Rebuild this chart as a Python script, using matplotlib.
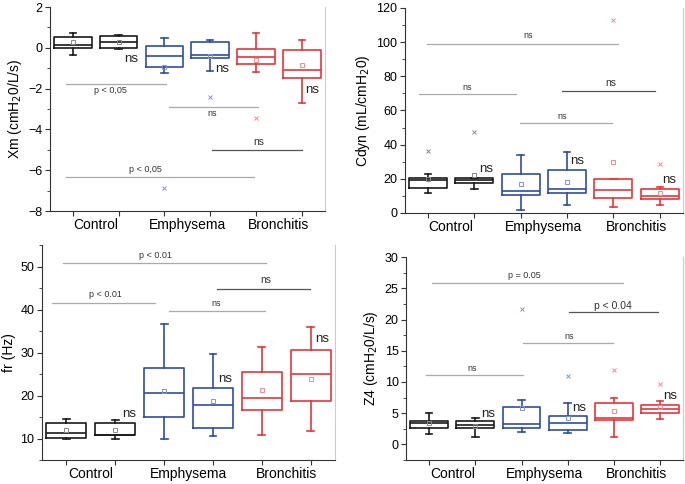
import matplotlib.pyplot as plt
from matplotlib.ticker import MultipleLocator

plt.rcParams['font.family'] = ['Liberation Sans', 'DejaVu Sans']

groups = ["Control", "Emphysema", "Bronchitis"]
box_colors = ["#1a1a1a", "#1a1a1a", "#2f4ea3", "#2f4ea3", "#e8353a", "#e8353a"]
soft_colors = ["#8a8a8a", "#8a8a8a", "#8595cc", "#8595cc", "#f08c8e", "#f08c8e"]

# Xm (cmH2O/L/s)
xm_q1 = [-0.01, 0.0, -0.95, -0.50, -0.78, -1.49]
xm_med = [0.15, 0.28, -0.42, -0.34, -0.45, -1.11]
xm_q3 = [0.53, 0.56, 0.07, 0.27, -0.06, -0.13]
xm_lo = [-0.37, -0.05, -1.24, -1.16, -1.18, -2.71]
xm_hi = [0.72, 0.64, 0.48, 0.40, 0.72, 0.36]
xm_mean = [0.27, 0.27, -0.93, -0.39, -0.60, -0.86]
xm_out = [[], [], [-6.89], [-2.42], [-3.43], []]

# Cdyn (mL/cmH2O)
cd_q1 = [14.7, 17.8, 10.4, 11.9, 8.8, 8.4]
cd_med = [19.0, 19.2, 12.9, 14.3, 13.7, 9.8]
cd_q3 = [20.6, 20.6, 22.7, 25.4, 19.6, 14.3]
cd_lo = [11.9, 14.3, 2.0, 4.9, 3.5, 4.5]
cd_hi = [22.7, 20.6, 33.7, 35.6, 19.6, 15.3]
cd_mean = [20.0, 22.1, 16.8, 18.0, 29.6, 11.9]
cd_out = [[36.4], [47.2], [], [], [113.2], [28.4]]

# fr (Hz)
fr_q1 = [10.1, 10.7, 15.0, 12.5, 16.7, 18.7]
fr_med = [11.3, 10.9, 20.5, 17.7, 19.5, 25.1]
fr_q3 = [13.5, 13.5, 26.5, 21.8, 25.5, 30.7]
fr_lo = [10.0, 9.8, 9.8, 10.5, 10.9, 11.7]
fr_hi = [14.6, 14.4, 36.6, 29.7, 31.4, 35.9]
fr_mean = [11.9, 11.9, 21.0, 18.7, 21.2, 23.9]
fr_out = [[], [], [], [], [], []]

# Z4 (cmH2O/L/s)
z4_q1 = [2.7, 2.7, 2.7, 2.3, 3.9, 5.0]
z4_med = [3.4, 3.1, 3.3, 3.4, 4.3, 5.6]
z4_q3 = [3.8, 3.7, 6.0, 4.6, 6.6, 6.3]
z4_lo = [1.6, 1.2, 2.0, 1.8, 1.2, 4.0]
z4_hi = [5.1, 4.2, 7.1, 6.7, 7.4, 7.0]
z4_mean = [3.4, 3.0, 5.8, 4.2, 5.3, 6.0]
z4_out = [[], [], [21.7], [10.9], [12.0], [9.6]]

# comparison lines: x from, x to, y, label, label x, label y, dark line
xm_cmp = [(0.85, 3.03, -1.78, "p < 0,05", 1.81, -2.1, False),
          (3.10, 5.05, -2.91, "ns", 4.05, -3.2, False),
          (4.04, 6.00, -4.99, "ns", 5.07, -4.63, True),
          (0.85, 4.96, -6.35, "p < 0,05", 2.58, -5.95, False)]
cd_cmp = [(0.97, 5.10, 99.1, "ns", 3.17, 103.8, False),
          (0.81, 2.90, 69.5, "ns", 1.85, 73.6, False),
          (3.90, 5.90, 71.5, "ns", 4.94, 76.0, True),
          (2.99, 4.96, 52.5, "ns", 3.89, 56.4, False)]
fr_cmp = [(0.93, 5.09, 50.8, "p < 0.01", 2.83, 52.6, False),
          (0.71, 2.81, 41.6, "p < 0.01", 1.79, 43.4, False),
          (4.08, 5.99, 44.9, "ns", 5.09, 46.9, True),
          (3.10, 5.07, 39.6, "ns", 4.06, 41.5, False)]
z4_cmp = [(1.07, 5.20, 25.9, "p = 0.05", 3.06, 27.0, False),
          (4.02, 5.96, 21.2, "p < 0.04", 4.99, 22.2, True),
          (3.03, 4.99, 16.3, "ns", 4.04, 17.3, False),
          (0.93, 3.03, 11.1, "ns", 1.94, 12.1, False)]

# "ns" next to the second box of each group
xm_ns = [(2.28, -0.55), (4.27, -1.04), (6.22, -2.06)]
cd_ns = [(2.25, 25.8), (4.22, 30.3), (6.21, 19.2)]
fr_ns = [(2.29, 15.6), (4.25, 23.8), (6.24, 33.1)]
z4_ns = [(2.27, 4.8), (4.25, 5.9), (6.22, 7.8)]


def draw_panel(ax, q1, med, q3, lo, hi, mean, out, cmp, ns, ylabel, ylim, major, minor):
    for i in range(6):
        st = [dict(q1=q1[i], med=med[i], q3=q3[i], whislo=lo[i], whishi=hi[i],
                   mean=mean[i], fliers=out[i])]
        c = box_colors[i]
        ax.bxp(st, positions=[i + 1], widths=0.82, capwidths=0.14, showmeans=True,
               boxprops=dict(color=c, linewidth=1.2),
               medianprops=dict(color=c, linewidth=1.2),
               whiskerprops=dict(color=c, linewidth=1.2),
               capprops=dict(color=c, linewidth=1.2),
               meanprops=dict(marker="s", markersize=3, markerfacecolor="none",
                              markeredgecolor=soft_colors[i], markeredgewidth=0.7),
               flierprops=dict(marker="x", markersize=3, markeredgecolor=soft_colors[i],
                               markeredgewidth=0.7))

    for x0, x1, y, lab, tx, ty, dark in cmp:
        ax.plot([x0, x1], [y, y], color="#555555" if dark else "#aaaaaa", lw=0.9)
        ax.text(tx, ty, lab, ha="center", va="center", color="#333333",
                fontsize=7.5 if dark else 6.5)
    for tx, ty in ns:
        ax.text(tx, ty, "ns", ha="center", va="center", fontsize=9.5, color="#222222")

    ax.set_xlim(0.5, 6.5)
    ax.set_ylim(*ylim)
    ax.yaxis.set_major_locator(MultipleLocator(major))
    ax.yaxis.set_minor_locator(MultipleLocator(minor))
    ax.set_xticks(range(1, 7))
    ax.set_xticklabels([""] * 6)
    ax.set_xticks([1.5, 3.5, 5.5], minor=True)
    ax.set_xticklabels(groups, minor=True, fontsize=10)
    ax.tick_params(axis="x", which="minor", length=0, pad=5)
    ax.tick_params(axis="x", which="major", length=3.5, direction="out", color="#333333")
    ax.tick_params(axis="y", which="major", length=3.5, labelsize=9, pad=2, color="#333333")
    ax.tick_params(axis="y", which="minor", length=2, color="#333333")
    ax.set_ylabel(ylabel, fontsize=10, labelpad=3)
    ax.spines["top"].set_visible(False)
    ax.spines["right"].set_color("#cccccc")
    ax.spines["left"].set_color("#333333")
    ax.spines["bottom"].set_color("#333333")


fig = plt.figure(figsize=(6.85, 4.84), dpi=100)
ax1 = fig.add_axes([0.073, 0.564, 0.401, 0.4215])
ax2 = fig.add_axes([0.591, 0.560, 0.406, 0.4236])
ax3 = fig.add_axes([0.0613, 0.0496, 0.428, 0.444])
ax4 = fig.add_axes([0.593, 0.0496, 0.404, 0.419])

draw_panel(ax1, xm_q1, xm_med, xm_q3, xm_lo, xm_hi, xm_mean, xm_out, xm_cmp, xm_ns,
           "Xm (cmH$_2$0/L/s)", (-8, 2), 2, 1)
draw_panel(ax2, cd_q1, cd_med, cd_q3, cd_lo, cd_hi, cd_mean, cd_out, cd_cmp, cd_ns,
           "Cdyn (mL/cmH$_2$0)", (0, 120), 20, 10)
draw_panel(ax3, fr_q1, fr_med, fr_q3, fr_lo, fr_hi, fr_mean, fr_out, fr_cmp, fr_ns,
           "fr (Hz)", (5, 55), 10, 5)
draw_panel(ax4, z4_q1, z4_med, z4_q3, z4_lo, z4_hi, z4_mean, z4_out, z4_cmp, z4_ns,
           "Z4 (cmH$_2$0/L/s)", (-2.5, 30), 5, 2.5)

fig.savefig("out.png", dpi=100)
